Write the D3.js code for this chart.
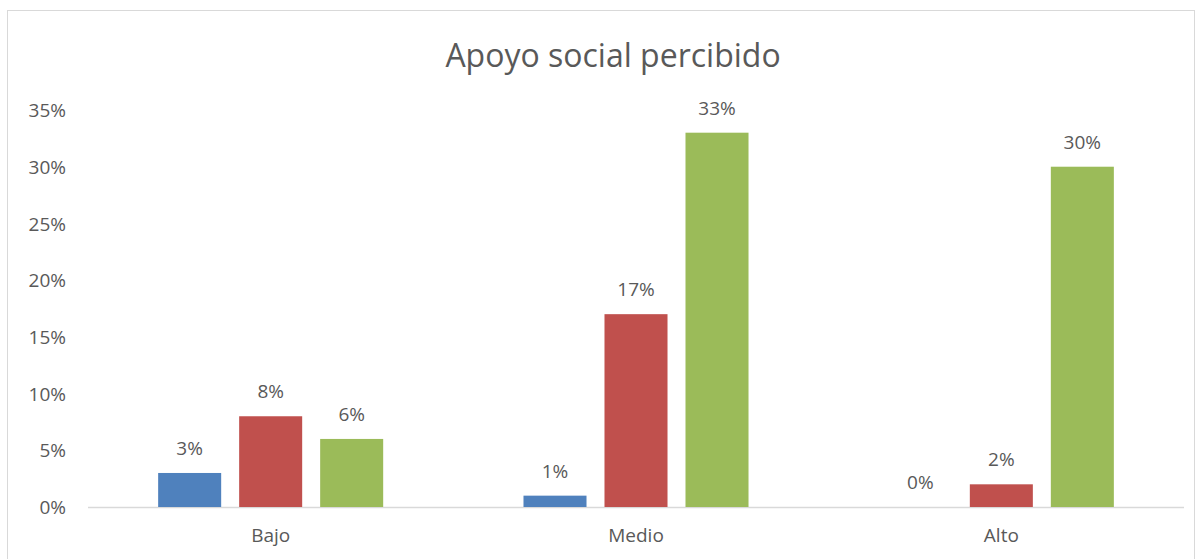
<!DOCTYPE html>
<html>
<head>
<meta charset="utf-8">
<script src="https://cdn.jsdelivr.net/npm/d3@7"></script>
<style>
body{margin:0;background:#fff;}
text{font-family:"Open Sans",sans-serif;fill:#595959;}
</style>
</head>
<body>
<div id="chart"></div>
<script>
var categories=["Bajo","Medio","Alto"]
var seriesNames=["s1","s2","s3"]
var seriesColors=["#4F81BD","#C0504D","#9BBB59"]
var values=[
	[3,8,6],
	[1,17,33],
	[0,2,30]
]
var yTicks=[0,5,10,15,20,25,30,35]

var width=1200, height=559
var svg=d3.select("#chart").append("svg").attr("width",width).attr("height",height)

// chart border
svg.append("rect").attr("x",7.5).attr("y",10.5).attr("width",1187).attr("height",560)
	.attr("fill","none").attr("stroke","#d9d9d9")

var x0=d3.scaleBand().domain(categories).range([88,1184])
var x1=d3.scaleBand().domain(seriesNames).range([0,x0.bandwidth()]).paddingInner(0.222).paddingOuter(0.866)
var y=d3.scaleLinear().domain([0,35]).range([507,110])

var yAxis=svg.append("g").attr("transform","translate(66,0)")
	.call(d3.axisLeft(y).tickValues(yTicks).tickFormat(function(d){return d+"%"}).tickSize(0).tickPadding(0))
yAxis.select(".domain").remove()
yAxis.selectAll("text").style("font-size","19px").attr("dy","0.35em")

svg.append("line").attr("x1",88).attr("x2",1184).attr("y1",y(0)+0.5).attr("y2",y(0)+0.5)
	.attr("stroke","#d9d9d9").attr("stroke-width",1.3)

var xAxis=svg.append("g").attr("transform","translate(0,"+y(0)+")")
	.call(d3.axisBottom(x0).tickSize(0).tickPadding(22))
xAxis.select(".domain").remove()
xAxis.selectAll("text").style("font-size","19px")

var groups=svg.selectAll(".grp").data(categories).enter().append("g")
	.attr("transform",function(d){return "translate("+x0(d)+",0)"})

groups.selectAll("rect").data(function(d,i){return values[i].map(function(v,j){return {k:seriesNames[j],v:v,c:seriesColors[j]}})})
	.enter().append("rect")
	.attr("x",function(d){return x1(d.k)})
	.attr("width",x1.bandwidth())
	.attr("y",function(d){return y(d.v)})
	.attr("height",function(d){return y(0)-y(d.v)})
	.attr("fill",function(d){return d.c})

groups.selectAll("text.lbl").data(function(d,i){return values[i].map(function(v,j){return {k:seriesNames[j],v:v}})})
	.enter().append("text").attr("class","lbl")
	.attr("x",function(d){return x1(d.k)+x1.bandwidth()/2})
	.attr("y",function(d){return y(d.v)-18})
	.attr("text-anchor","middle")
	.style("font-size","19px")
	.text(function(d){return d.v+"%"})

svg.append("text").attr("x",613).attr("y",67).attr("text-anchor","middle")
	.style("font-size","32px").text("Apoyo social percibido")
</script>
</body>
</html>
